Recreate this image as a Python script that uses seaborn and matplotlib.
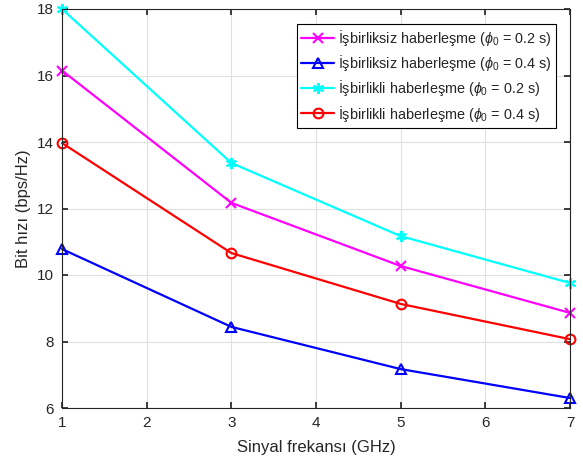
import matplotlib
matplotlib.use("Agg")
import matplotlib.pyplot as plt
import seaborn as sns
import pandas as pd

freq = [1, 3, 5, 7]
nonco_02 = [16.15, 12.17, 10.27, 8.86]
nonco_04 = [10.78, 8.44, 7.17, 6.30]
co_02 = [18.0, 13.37, 11.17, 9.76]
co_04 = [13.97, 10.66, 9.13, 8.07]
labels = [r"İşbirliksiz haberleşme ($\phi_0$ = 0.2 s)",
          r"İşbirliksiz haberleşme ($\phi_0$ = 0.4 s)",
          r"İşbirlikli haberleşme ($\phi_0$ = 0.2 s)",
          r"İşbirlikli haberleşme ($\phi_0$ = 0.4 s)"]
colors = ["#FF00FF", "#0000FF", "#00FFFF", "#FF0000"]
markers = ["x", "^", (6, 2, 0), "o"]

rows = []
for lab, vals in zip(labels, [nonco_02, nonco_04, co_02, co_04]):
    for f, v in zip(freq, vals):
        rows.append({"f": f, "v": v, "s": lab})
df = pd.DataFrame(rows)

sns.set_theme(style="whitegrid")
plt.rcParams["font.family"] = ["Liberation Sans", "DejaVu Sans"]
plt.rcParams["mathtext.fontset"] = "custom"
plt.rcParams["mathtext.it"] = "Liberation Sans:italic"
plt.rcParams["mathtext.rm"] = "Liberation Sans"

fig = plt.figure(figsize=(5.83, 4.66), dpi=100)
ax = fig.add_axes([62/583, 1-408/466, (570-62)/583, (408-9)/466])

for lab, c, m in zip(labels, colors, markers):
    sub = df[df["s"] == lab]
    sns.lineplot(data=sub, x="f", y="v", ax=ax, color=c, marker=m, label=lab,
                 linewidth=1.6, markersize=8 if m == markers[2] else 7,
                 markerfacecolor="none" if m in ("^", "o") else c,
                 markeredgecolor=c, markeredgewidth=1.5, clip_on=False)

ax.set_xlim(1, 7)
ax.set_ylim(6, 18)
ax.set_xticks(range(1, 8))
ax.set_yticks(range(6, 19, 2))
ax.set_xlabel("Sinyal frekansı (GHz)", fontsize=12, color="#262626", labelpad=7)
ax.set_ylabel("Bit hızı (bps/Hz)", fontsize=12, color="#262626", labelpad=4)
ax.tick_params(direction="in", length=4, labelsize=11, colors="#262626",
               bottom=True, left=True, top=True, right=True, pad=6)
ax.grid(True, color="#e0e0e0", linewidth=0.8)
for sp in ax.spines.values():
    sp.set_color("#262626")
    sp.set_linewidth(0.8)
    sp.set_visible(True)
ax.set_facecolor("white")
leg = ax.legend(loc="upper right", fontsize=10.4, frameon=True, fancybox=False,
                edgecolor="black", framealpha=1, handlelength=2.3,
                borderpad=0.3, labelspacing=0.35, handletextpad=0.25,
                borderaxespad=0,
                bbox_to_anchor=((556-62)/508, (408-24)/399))
leg.get_frame().set_linewidth(0.8)
fig.savefig("out.png", dpi=100)
